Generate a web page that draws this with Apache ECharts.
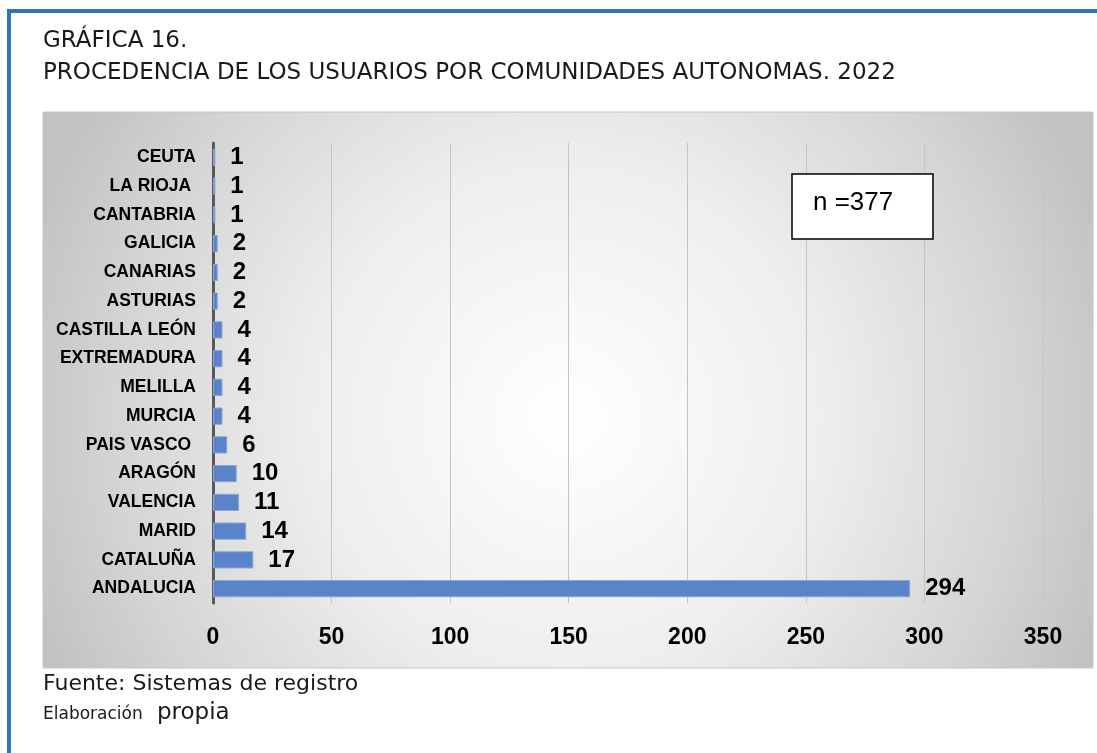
<!DOCTYPE html>
<html>
<head>
<meta charset="utf-8">
<script src="https://cdn.jsdelivr.net/npm/echarts@6/dist/echarts.min.js"></script>
<style>
html,body{margin:0;padding:0;background:#fff;}
#c{width:1097px;height:753px;}
</style>
</head>
<body>
<div id="c"></div>
<script>
const categories = ['CEUTA','LA RIOJA ','CANTABRIA','GALICIA','CANARIAS','ASTURIAS','CASTILLA LEÓN','EXTREMADURA','MELILLA','MURCIA','PAIS VASCO ','ARAGÓN','VALENCIA','MARID','CATALUÑA','ANDALUCIA'];
const values = [1,1,1,2,2,2,4,4,4,4,6,10,11,14,17,294];
const xTicks = [0,50,100,150,200,250,300,350];
const titleLines = ['GRÁFICA 16.','PROCEDENCIA DE LOS USUARIOS POR COMUNIDADES AUTONOMAS. 2022'];
const sourceText = 'Fuente: Sistemas de registro';
const noteSmall = 'Elaboración';
const noteBig = 'propia';
const nText = 'n =377';

const chart = echarts.init(document.getElementById('c'), null, {renderer:'canvas'});
const sans = '"Liberation Sans", Arial, sans-serif';
const titleFont = '"DejaVu Sans", sans-serif';

chart.setOption({
  animation:false,
  backgroundColor:'#ffffff',
  grid:{left:213,right:54,top:143,bottom:150,containLabel:false},
  xAxis:{
    type:'value',min:xTicks[0],max:xTicks[xTicks.length-1],interval:50,
    axisLine:{show:false},
    axisTick:{show:false},
    splitLine:{show:true,lineStyle:{color:'#c4c4c4',width:1}},
    axisLabel:{color:'#000',fontFamily:sans,fontWeight:'bold',fontSize:23,margin:23}
  },
  yAxis:{
    type:'category',data:categories,inverse:true,
    axisLine:{show:true,lineStyle:{color:'#595959',width:3}},
    axisTick:{show:false},
    splitLine:{show:false},
    axisLabel:{color:'#000',fontFamily:sans,fontWeight:'bold',fontSize:17.5,margin:17}
  },
  series:[{
    type:'bar',data:values,barWidth:'60%',
    itemStyle:{color:'#5A83C9',borderColor:'#8AA7DB',borderWidth:1},
    label:{show:true,position:'right',distance:15,color:'#000',fontFamily:sans,fontWeight:'bold',fontSize:24}
  }],
  graphic:[
    {type:'rect',z:-10,silent:true,shape:{x:43,y:112,width:1050,height:556},
     style:{fill:{type:'radial',x:0.5,y:0.55,r:1.02,colorStops:[
       {offset:0,color:'#ffffff'},{offset:0.45,color:'#eeeeee'},{offset:0.8,color:'#d4d4d4'},{offset:1,color:'#c2c2c2'}]},
       stroke:'#c6c6c6',lineWidth:1}},
    {type:'rect',z:-20,silent:true,shape:{x:7,y:9,width:1097,height:4},style:{fill:'#2E75B6'}},
    {type:'rect',z:-20,silent:true,shape:{x:7,y:9,width:4,height:753},style:{fill:'#2E75B6'}},
    {type:'text',z:50,left:43,top:30,style:{text:titleLines[0],fontFamily:titleFont,fontSize:23,fill:'#1a1a1a'}},
    {type:'text',z:50,left:43,top:62,style:{text:titleLines[1],fontFamily:titleFont,fontSize:23,fill:'#1a1a1a'}},
    {type:'rect',z:100,shape:{x:792,y:174,width:141,height:65},style:{fill:'#ffffff',stroke:'#000',lineWidth:1.5}},
    {type:'text',z:101,left:813,top:190,style:{text:nText,fontFamily:sans,fontSize:26,fill:'#000'}},
    {type:'text',z:50,left:43,top:673,style:{text:sourceText,fontFamily:titleFont,fontSize:22,fill:'#1a1a1a'}},
    {type:'text',z:50,left:43,top:706,style:{text:noteSmall,fontFamily:titleFont,fontSize:17,fill:'#1a1a1a'}},
    {type:'text',z:50,left:157,top:702,style:{text:noteBig,fontFamily:titleFont,fontSize:23,fill:'#1a1a1a'}}
  ]
});
</script>
</body>
</html>
